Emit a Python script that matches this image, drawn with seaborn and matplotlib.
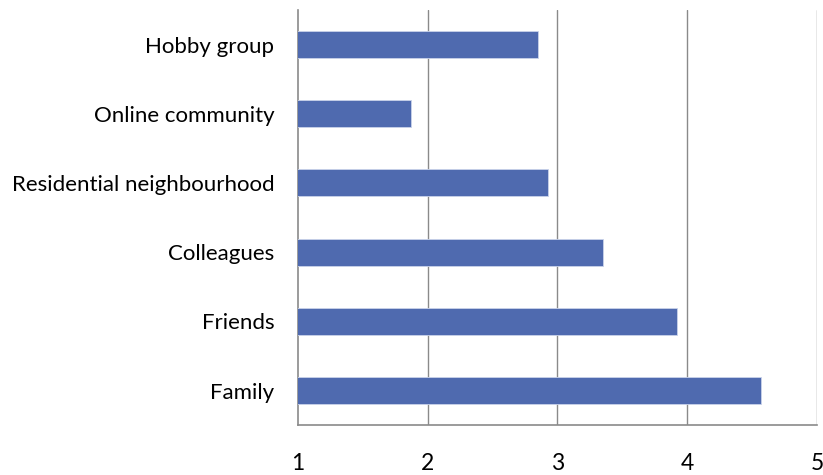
import pandas as pd
import matplotlib
matplotlib.use("Agg")
import matplotlib.pyplot as plt
import seaborn as sns
from matplotlib.ticker import FixedLocator

categories = ["Hobby group", "Online community", "Residential neighbourhood",
              "Colleagues", "Friends", "Family"]
values = [2.85, 1.87, 2.93, 3.35, 3.92, 4.57]
xticks = [1, 2, 3, 4, 5]

df = pd.DataFrame({"group": categories, "score": values})

sns.set_style("white")
plt.rcParams["font.family"] = ["Lato", "DejaVu Sans"]

fig = plt.figure(figsize=(8.23, 4.75), dpi=100)
ax = fig.add_axes([0.362, 0.105, 0.6307, 0.874])

sns.barplot(data=df, x="score", y="group", order=categories, color="#4F6AAF",
            saturation=1, width=0.39, edgecolor="#c9d3ea", linewidth=0.6,
            ax=ax, zorder=3)

ax.set_xlim(1, 5)
ax.set_ylim(len(categories) - 0.5, -0.5)
ax.set_xticks(xticks)
ax.set_xticklabels([str(t) for t in xticks])
ax.set_xlabel("")
ax.set_ylabel("")

gray = "#8a8a8a"
for x in xticks[1:]:
    ax.axvline(x, color=gray, linewidth=1.0, zorder=1)

for side in ["top", "right"]:
    ax.spines[side].set_visible(False)
for side in ["left", "bottom"]:
    ax.spines[side].set_color(gray)
    ax.spines[side].set_linewidth(1.2)

ax.tick_params(axis="y", which="major", length=0, pad=17, labelsize=16, colors="black")
ax.yaxis.set_minor_locator(FixedLocator([i - 0.5 for i in range(len(categories) + 1)]))
ax.tick_params(axis="y", which="minor", length=7, width=1.2, color=gray, direction="out")
ax.tick_params(axis="x", which="major", length=8, width=1.2, color=gray, pad=12,
               labelsize=16.5, labelcolor="black")

fig.savefig("out.png", dpi=100)
